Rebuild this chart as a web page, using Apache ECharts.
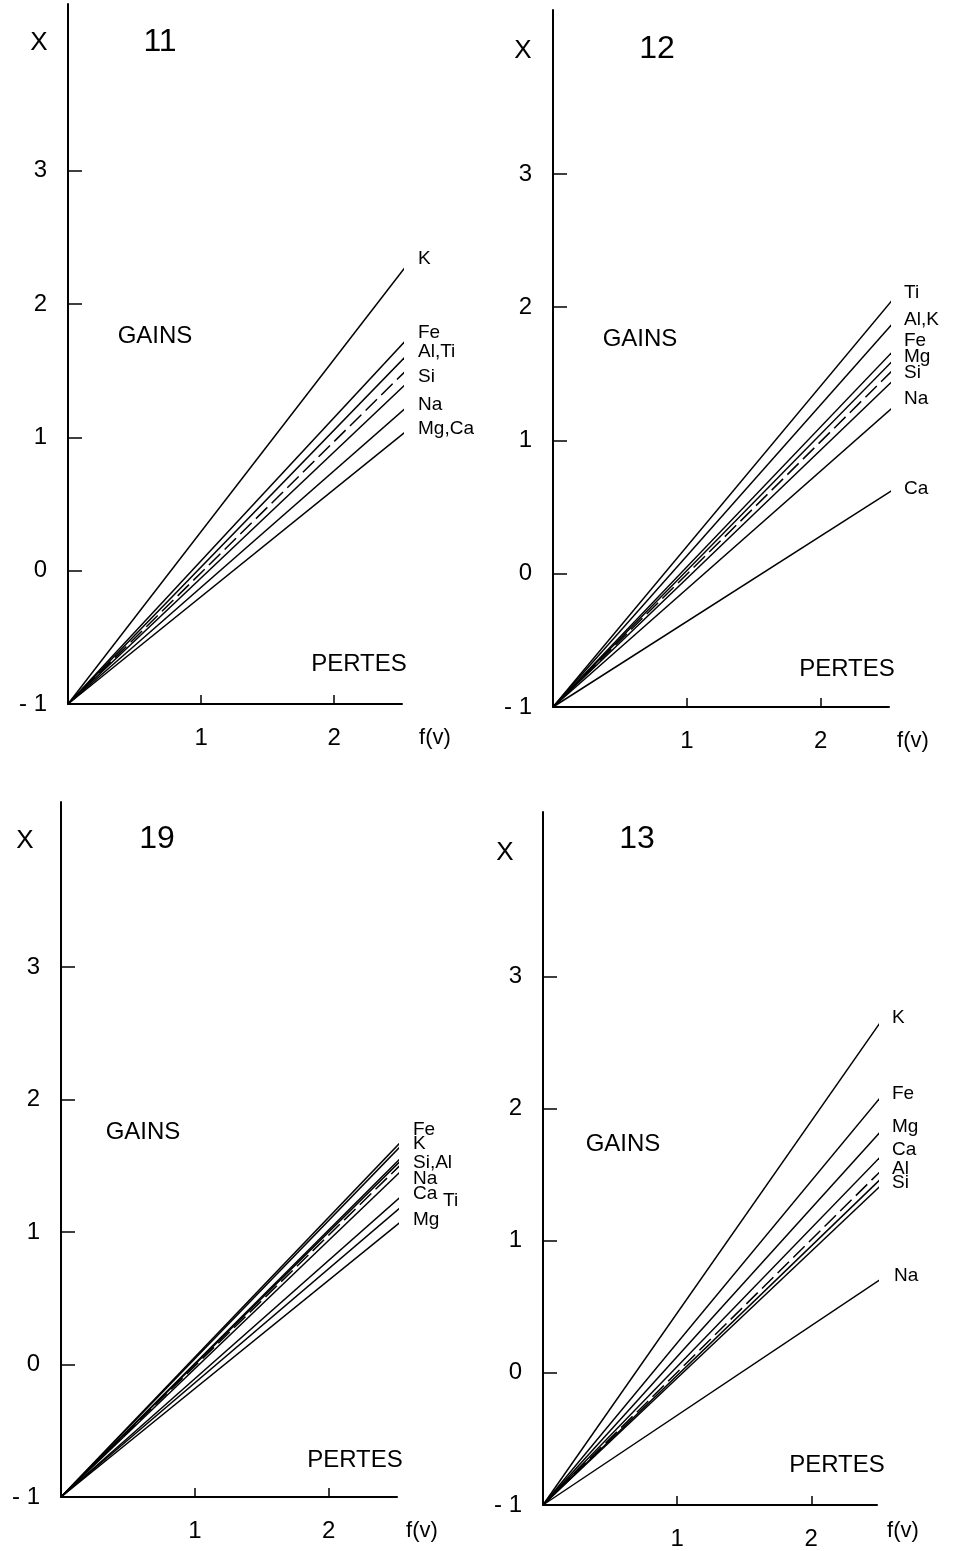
<!DOCTYPE html>
<html><head><meta charset="utf-8">
<script src="https://cdn.jsdelivr.net/npm/echarts@6/dist/echarts.min.js"></script>
<style>html,body{margin:0;padding:0;background:#fff}#c{width:955px;height:1551px}</style>
</head><body><div id="c"></div>
<script>
// ---------- DATA ----------
// every line starts at the common origin (f(v)=0, X=-1)
const originX = 0, originY = -1;
const yTickLabels = [-1, 0, 1, 2, 3];
const yTickMarks = [0, 1, 2, 3];
const xTickLabels = [1, 2];

// Panel 11
const p11Title = '11';
const p11Series = ['K', 'Fe', 'Al,Ti', 'ref', 'Si', 'Na', 'Mg,Ca'];
const p11Labels = ['K', 'Fe', 'Al,Ti', '', 'Si', 'Na', 'Mg,Ca'];
const p11EndX = 2.56;
const p11EndY = [2.31, 1.75, 1.63, 1.52, 1.42, 1.24, 1.06];

// Panel 12
const p12Title = '12';
const p12Series = ['Ti', 'Al,K', 'Fe', 'Mg', 'ref', 'Si', 'Na', 'Ca'];
const p12Labels = ['Ti', 'Al,K', 'Fe', 'Mg', '', 'Si', 'Na', 'Ca'];
const p12EndX = 2.54;
const p12EndY = [2.06, 1.88, 1.67, 1.60, 1.53, 1.45, 1.25, 0.63];

// Panel 19
const p19Title = '19';
const p19Series = ['Fe', 'K', 'Si', 'Al', 'ref', 'Na', 'Ca', 'Ti', 'Mg'];
const p19Labels = ['Fe', 'K', 'Si,Al', '', '', 'Na', 'Ca', 'Ti', 'Mg'];
const p19EndX = 2.53;
const p19EndY = [1.67, 1.64, 1.55, 1.53, 1.50, 1.45, 1.26, 1.18, 1.07];

// Panel 13
const p13Title = '13';
const p13Series = ['K', 'Fe', 'Mg', 'Ca', 'ref', 'Al', 'Si', 'Na'];
const p13Labels = ['K', 'Fe', 'Mg', 'Ca', '', 'Al', 'Si', 'Na'];
const p13EndX = 2.52;
const p13EndY = [2.66, 2.09, 1.83, 1.64, 1.53, 1.47, 1.42, 0.71];

// ---------- LAYOUT / STYLE ----------
const FONT = '"Liberation Sans", Arial, sans-serif';
const panels = [
  { title: p11Title, names: p11Series, labels: p11Labels, endX: p11EndX, endY: p11EndY,
    grid: { left: 68, top: 4, width: 334, height: 700 }, xMax: 2.51, yMax: 4.25,
    dashed: 'ref', dx: 14, dy: [-10, -10, -6, 0, -9, -5, -4], dxOver: {},
    txt: { X: [39, 43], N: [160, 42], G: [155, 336], P: [359, 664], F: [435, 738] } },
  { title: p12Title, names: p12Series, labels: p12Labels, endX: p12EndX, endY: p12EndY,
    grid: { left: 553, top: 10, width: 336, height: 697 }, xMax: 2.51, yMax: 4.23,
    dashed: 'ref', dx: 13, dy: [-9, -6, -13, -6, 0, -10, -10, -2], dxOver: {},
    txt: { X: [523, 51], N: [657, 49], G: [640, 339], P: [847, 669], F: [913, 741] } },
  { title: p19Title, names: p19Series, labels: p19Labels, endX: p19EndX, endY: p19EndY,
    grid: { left: 61, top: 802, width: 336, height: 695 }, xMax: 2.51, yMax: 4.245,
    dashed: 'ref', dx: 14, dy: [-14, -4, 3, 0, 0, 6, -4, -8, -3], dxOver: { 7: 44 },
    txt: { X: [25, 841], N: [157, 839], G: [143, 1132], P: [355, 1460], F: [422, 1531] } },
  { title: p13Title, names: p13Series, labels: p13Labels, endX: p13EndX, endY: p13EndY,
    grid: { left: 543, top: 812, width: 334, height: 695 }, xMax: 2.49, yMax: 4.245,
    dashed: 'ref', dx: 13, dy: [-7, -5, -7, -9, 0, -12, -4, -5], dxOver: { 7: 15 },
    txt: { X: [505, 853], N: [637, 839], G: [623, 1144], P: [837, 1465], F: [903, 1531] } }
];

const grids = [], xAxes = [], yAxes = [], series = [], graphics = [];
function txt(x, y, s, size) {
  graphics.push({ type: 'text', x: x, y: y, silent: true,
    style: { text: s, fill: '#000', font: size + 'px ' + FONT, textAlign: 'center', textVerticalAlign: 'middle' } });
}
panels.forEach((p, i) => {
  grids.push(Object.assign({ containLabel: false }, p.grid));
  xAxes.push({
    gridIndex: i, type: 'value', min: 0, max: p.xMax,
    axisLine: { show: true, onZero: false, lineStyle: { color: '#000', width: 2 } },
    splitLine: { show: false },
    axisTick: { show: true, inside: true, length: 9, customValues: xTickLabels, lineStyle: { color: '#000', width: 1.5 } },
    axisLabel: { customValues: xTickLabels, margin: 22, fontSize: 24, color: '#000', fontFamily: FONT }
  });
  yAxes.push({
    gridIndex: i, type: 'value', min: -1, max: p.yMax,
    axisLine: { show: true, onZero: false, lineStyle: { color: '#000', width: 2 } },
    splitLine: { show: false },
    axisTick: { show: true, inside: true, length: 14, customValues: yTickMarks, lineStyle: { color: '#000', width: 1.5 } },
    axisLabel: { customValues: yTickLabels, margin: 21, fontSize: 24, color: '#000', fontFamily: FONT,
      formatter: v => v < 0 ? '- ' + Math.abs(v) : String(v) }
  });
  p.names.forEach((n, k) => {
    const lab = p.labels[k];
    series.push({
      type: 'line', name: n, xAxisIndex: i, yAxisIndex: i,
      data: [[originX, originY], [p.endX, p.endY[k]]],
      symbol: 'none', clip: false, silent: true,
      lineStyle: { color: '#000', width: 1.5, type: n === p.dashed ? [16, 6] : 'solid' },
      endLabel: { show: lab !== '', formatter: lab, position: 'right', distance: 0,
        offset: [p.dxOver[k] !== undefined ? p.dxOver[k] : p.dx, p.dy[k]],
        color: '#000', fontSize: 19, fontFamily: FONT, align: 'left' }
    });
  });
  txt(p.txt.X[0], p.txt.X[1], 'X', 26);
  txt(p.txt.N[0], p.txt.N[1], p.title, 32);
  txt(p.txt.G[0], p.txt.G[1], 'GAINS', 24);
  txt(p.txt.P[0], p.txt.P[1], 'PERTES', 24);
  txt(p.txt.F[0], p.txt.F[1], 'f(v)', 22);
});

const chart = echarts.init(document.getElementById('c'), null, { renderer: 'canvas' });
chart.setOption({
  animation: false, backgroundColor: '#fff',
  grid: grids, xAxis: xAxes, yAxis: yAxes, series: series, graphic: graphics
});
</script></body></html>
